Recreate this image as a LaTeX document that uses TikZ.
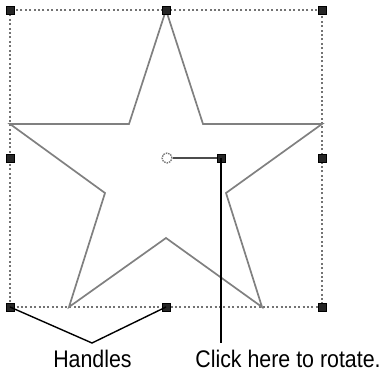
\documentclass[tikz,border=0pt]{standalone}
\usepackage{fontspec}
\setmainfont{Liberation Sans}
\begin{document}
\begin{tikzpicture}[x=1pt,y=-1pt,
  handle/.style={draw=black,fill=black!85,minimum size=8pt,inner sep=0pt,line width=0.6pt},
  box/.style={draw=black!55,line width=2pt,dash pattern=on 2pt off 2.4pt},
  starline/.style={draw=black!50,line width=1.7pt,line join=miter},
  conn/.style={draw=black,line width=1.4pt},
  lbl/.style={font=\fontsize{24}{26}\selectfont,inner sep=0pt,xscale=0.89,anchor=base}]
\useasboundingbox (0,0) rectangle (382,372);
% bounding dotted box
\draw[box] (10,10) rectangle (322,307);
% star
\draw[starline] (166,10) -- (203,124) -- (322,124) -- (226,193) -- (262,307) -- (166,238) -- (69,307) -- (105,193) -- (10,124) -- (129,124) -- cycle;
% handles
\node[handle] (h1) at (10,10) {};
\node[handle] (h2) at (166,10) {};
\node[handle] (h3) at (322,10) {};
\node[handle] (h4) at (10,158) {};
\node[handle] (h5) at (322,158) {};
\node[handle] (h6) at (10,307) {};
\node[handle] (h7) at (166,307) {};
\node[handle] (h8) at (322,307) {};
% rotation
\node[circle,draw=black!55,dash pattern=on 1.5pt off 1pt,line width=1.3pt,minimum size=10pt,inner sep=0pt] (rc) at (167,158) {};
\node[handle,minimum size=8pt] (rh) at (221,158) {};
\draw[conn,draw=black!70,line width=1.3pt] (rc) -- (rh);
% labels
\node[lbl] (hl) at (92.5,367) {Handles};
\node[lbl] (rl) at (288,367) {Click here to rotate.};
\coordinate (hj) at (92,343);
\draw[conn] (h6.center) -- (hj) -- (h7.center);
\draw[conn] (rh.center) -- (221,343);
\end{tikzpicture}
\end{document}
